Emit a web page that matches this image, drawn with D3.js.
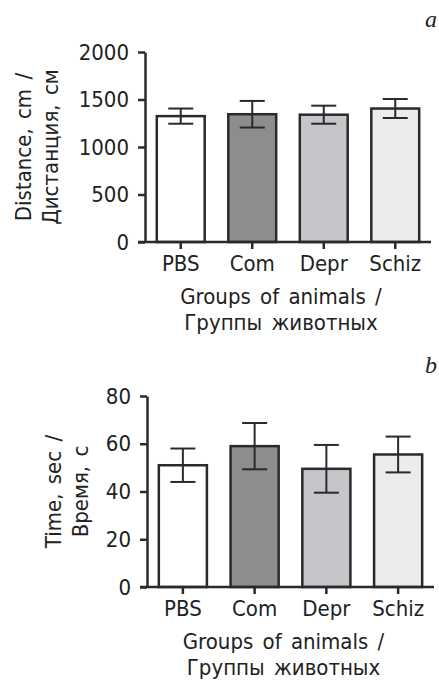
<!DOCTYPE html>
<html>
<head>
<meta charset="utf-8">
<script src="https://cdn.jsdelivr.net/npm/d3@7"></script>
<style>
  body { margin: 0; background: #fff; }
  svg { display: block; }
  text { font-family: "Liberation Sans Narrow", "DejaVu Sans Condensed", "Open Sans", sans-serif; fill: #222; }
</style>
</head>
<body>
<div id="wrapper"></div>
<script>
// groups on the x axis
const groups = ["PBS", "Com", "Depr", "Schiz"]
const barFills = ["#ffffff", "#8d8d90", "#c5c6c9", "#ececec"]

// panel a: distance
const distanceMean = [1325, 1345, 1340, 1405]
const distanceErr = [80, 140, 95, 100]
const distanceTicks = [0, 500, 1000, 1500, 2000]

// panel b: time
const timeMean = [51, 59, 49.5, 55.5]
const timeErr = [7, 9.7, 10, 7.5]
const timeTicks = [0, 20, 40, 60, 80]

const ink = "#2a2a2a"
const fontSize = "22px"

const svg = d3.select("#wrapper")
  .append("svg")
    .attr("width", 439)
    .attr("height", 681)

function drawPanel(opts) {
  const yScale = d3.scaleLinear()
    .domain([0, opts.yMax])
    .range([opts.y0, opts.y1])

  const xScale = d3.scaleBand()
    .domain(groups)
    .range([opts.x0, opts.x1])
    .paddingInner(0.33)
    .paddingOuter(0.165)

  const g = svg.append("g")

  // bars
  g.selectAll(".bar")
    .data(groups)
    .join("rect")
      .attr("x", d => xScale(d))
      .attr("y", (d, i) => yScale(opts.mean[i]))
      .attr("width", xScale.bandwidth())
      .attr("height", (d, i) => yScale(0) - yScale(opts.mean[i]))
      .attr("fill", (d, i) => barFills[i])
      .attr("stroke", ink)
      .attr("stroke-width", 2.5)

  // error bars
  const capW = 25
  const cx = d => xScale(d) + xScale.bandwidth() / 2
  const errs = g.selectAll(".err")
    .data(groups)
    .join("g")
  errs.append("line")
    .attr("x1", cx)
    .attr("x2", cx)
    .attr("y1", (d, i) => yScale(opts.mean[i] + opts.err[i]))
    .attr("y2", (d, i) => yScale(opts.mean[i] - opts.err[i]))
  errs.append("line")
    .attr("x1", d => cx(d) - capW / 2)
    .attr("x2", d => cx(d) + capW / 2)
    .attr("y1", (d, i) => yScale(opts.mean[i] + opts.err[i]))
    .attr("y2", (d, i) => yScale(opts.mean[i] + opts.err[i]))
  errs.append("line")
    .attr("x1", d => cx(d) - capW / 2)
    .attr("x2", d => cx(d) + capW / 2)
    .attr("y1", (d, i) => yScale(opts.mean[i] - opts.err[i]))
    .attr("y2", (d, i) => yScale(opts.mean[i] - opts.err[i]))
  errs.selectAll("line")
    .attr("stroke", ink)
    .attr("stroke-width", 2)

  // y axis
  const yAxis = g.append("g")
    .attr("transform", `translate(${opts.x0},0)`)
    .call(d3.axisLeft(yScale)
      .tickValues(opts.ticks)
      .tickFormat(d3.format("d"))
      .tickSize(7).tickSizeOuter(0).tickPadding(9))
  yAxis.select(".domain").attr("stroke", ink).attr("stroke-width", 2.5)
  yAxis.selectAll(".tick line").attr("stroke", ink).attr("stroke-width", 2.5)
  yAxis.selectAll(".tick text").style("font-size", fontSize).attr("fill", "#222")

  // x axis
  const xAxis = g.append("g")
    .attr("transform", `translate(0,${opts.y0})`)
    .call(d3.axisBottom(xScale).tickSize(7).tickSizeOuter(0).tickPadding(6))
  xAxis.select(".domain")
    .attr("d", `M${opts.x0 - 7},0H${opts.x1}`)
    .attr("stroke", ink).attr("stroke-width", 2.5)
  xAxis.selectAll(".tick line").attr("stroke", ink).attr("stroke-width", 2.5)
  xAxis.selectAll(".tick text").style("font-size", fontSize).attr("fill", "#222")

  // x axis title
  const xMid = (opts.x0 + opts.x1) / 2 - 7
  g.append("text")
    .attr("x", xMid).attr("y", opts.y0 + 62)
    .attr("text-anchor", "middle")
    .style("font-size", fontSize)
    .style("word-spacing", "3px")
    .text("Groups of animals /")
  g.append("text")
    .attr("x", xMid).attr("y", opts.y0 + 88)
    .attr("text-anchor", "middle")
    .style("font-size", fontSize)
    .style("word-spacing", "3px")
    .text("Группы животных")

  // y axis title
  const yMid = (opts.y0 + opts.y1) / 2
  opts.yTitle.forEach((t, i) => {
    g.append("text")
      .attr("transform", `translate(${opts.yTitleX + i * 27},${yMid}) rotate(-90)`)
      .attr("text-anchor", "middle")
      .style("font-size", fontSize)
      .style("word-spacing", "3px")
      .text(t)
  })

  // panel letter
  g.append("text")
    .attr("x", 437).attr("y", opts.letterY)
    .attr("text-anchor", "end")
    .style("font-family", "'Liberation Serif', 'DejaVu Serif', serif")
    .style("font-style", "italic")
    .style("font-size", "24px")
    .text(opts.letter)
}

drawPanel({
  mean: distanceMean, err: distanceErr, ticks: distanceTicks, yMax: 2000,
  x0: 145, x1: 431, y0: 242, y1: 52,
  yTitle: ["Distance, cm /", "Дистанция, см"], yTitleX: 31,
  letter: "a", letterY: 27
})

drawPanel({
  mean: timeMean, err: timeErr, ticks: timeTicks, yMax: 80,
  x0: 147, x1: 434, y0: 587, y1: 396,
  yTitle: ["Time, sec /", "Время, с"], yTitleX: 61,
  letter: "b", letterY: 373
})
</script>
</body>
</html>
